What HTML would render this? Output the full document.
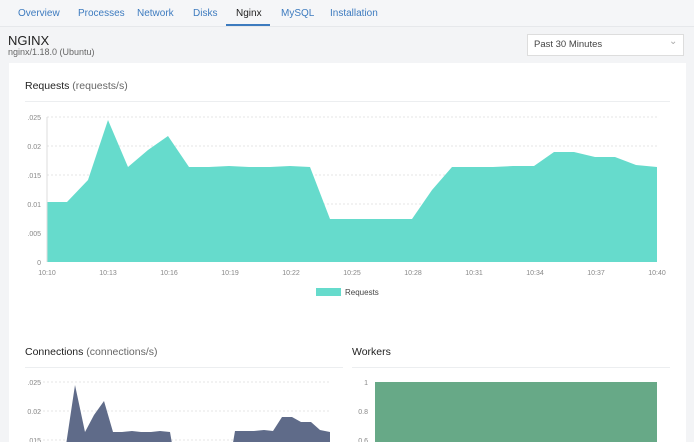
<!DOCTYPE html><html><head><style>
body{margin:0;width:694px;height:442px;overflow:hidden;background:#f3f4f6;font-family:"Liberation Sans",sans-serif;position:relative}
.t{position:absolute;white-space:nowrap}
</style></head><body>
<div class="t" style="left:0;top:0;width:694px;height:26px;background:#f5f6f8;border-bottom:1px solid #e6e8eb"></div>
<div class="t" style="top:8px;left:18px;font-size:10px;color:#3d7bbf">Overview</div>
<div class="t" style="top:8px;left:78px;font-size:10px;color:#3d7bbf">Processes</div>
<div class="t" style="top:8px;left:137px;font-size:10px;color:#3d7bbf">Network</div>
<div class="t" style="top:8px;left:193px;font-size:10px;color:#3d7bbf">Disks</div>
<div class="t" style="top:8px;left:236px;font-size:10px;color:#222">Nginx</div>
<div class="t" style="top:8px;left:281px;font-size:10px;color:#3d7bbf">MySQL</div>
<div class="t" style="top:8px;left:330px;font-size:10px;color:#3d7bbf">Installation</div>
<div class="t" style="top:24px;left:226px;width:44px;height:2px;background:#3d7bbf"></div>
<div class="t" style="top:33px;left:8px;font-size:13px;color:#222">NGINX</div>
<div class="t" style="top:47px;left:8px;font-size:9px;color:#666">nginx/1.18.0 (Ubuntu)</div>
<div class="t" style="top:34px;left:527px;width:157px;height:22px;background:#fff;border:1px solid #ddd;box-sizing:border-box"></div>
<div class="t" style="top:39px;left:534px;font-size:9.5px;color:#444">Past 30 Minutes</div>
<div class="t" style="top:36px;left:669px;font-size:10px;color:#aaa">&#8964;</div>
<div class="t" style="top:63px;left:9px;width:677px;height:379px;background:#fff"></div>
<div class="t" style="top:80px;left:25px;font-size:10.5px;color:#222">Requests <span style="color:#666">(requests/s)</span></div>
<div class="t" style="top:101px;left:25px;width:645px;height:1px;background:#eceef0"></div>
<div class="t" style="top:346px;left:25px;font-size:10.5px;color:#222">Connections <span style="color:#666">(connections/s)</span></div>
<div class="t" style="top:367px;left:25px;width:318px;height:1px;background:#eceef0"></div>
<div class="t" style="top:346px;left:352px;font-size:10.5px;color:#222">Workers</div>
<div class="t" style="top:367px;left:352px;width:318px;height:1px;background:#eceef0"></div>
<svg class="t" style="left:0;top:0" width="694" height="442" font-family="Liberation Sans" font-size="7" fill="#888">
<g stroke="#e4e4e4" stroke-dasharray="2,2"><line x1="47" x2="657" y1="117" y2="117"/><line x1="47" x2="657" y1="146" y2="146"/><line x1="47" x2="657" y1="175" y2="175"/><line x1="47" x2="657" y1="204" y2="204"/><line x1="47" x2="657" y1="233" y2="233"/>
<line x1="35" x2="330" y1="382" y2="382"/><line x1="35" x2="330" y1="411" y2="411"/><line x1="35" x2="330" y1="440" y2="440"/></g>
<g text-anchor="end"><text x="41" y="120">.025</text><text x="41" y="149">0.02</text><text x="41" y="178">.015</text><text x="41" y="207">0.01</text><text x="41" y="236">.005</text><text x="41" y="265">0</text>
<text x="41" y="385">.025</text><text x="41" y="414">0.02</text><text x="41" y="443">.015</text>
<text x="368" y="385">1</text><text x="368" y="414">0.8</text><text x="368" y="443">0.6</text></g>
<polygon fill="#66dbcc" points="47,262 47,202 67,202 88,180 108,120 128,167 148,150 168,136 189,167 209,167 229,166 249,167 270,167 290,166 310,167 330,219 351,219 371,219 391,219 412,219 432,190 452,167 473,167 493,167 513,166 534,166 554,152 574,152 595,157 615,157 636,165 657,167 657,262"/>
<line x1="47" x2="47" y1="117" y2="262" stroke="#ddd"/>
<g text-anchor="middle"><text x="47" y="275">10:10</text><text x="108" y="275">10:13</text><text x="169" y="275">10:16</text><text x="230" y="275">10:19</text><text x="291" y="275">10:22</text><text x="352" y="275">10:25</text><text x="413" y="275">10:28</text><text x="474" y="275">10:31</text><text x="535" y="275">10:34</text><text x="596" y="275">10:37</text><text x="657" y="275">10:40</text></g>
<rect x="316" y="288" width="25" height="8" fill="#66dbcc"/>
<text x="345" y="295" fill="#444" font-size="8">Requests</text>
<polygon fill="#5f6b89" points="47,470 47,467 56,467 66,445 75,385 85,432 94,415 104,401 113,432 122,432 132,431 141,432 151,432 160,431 170,432 179,484 226,484 235,431 245,431 254,431 264,430 273,431 282,417 292,417 301,422 311,422 320,430 330,432 330,470"/>
<rect x="375" y="382" width="282" height="70" fill="#67a987"/>
</svg>
</body></html>
